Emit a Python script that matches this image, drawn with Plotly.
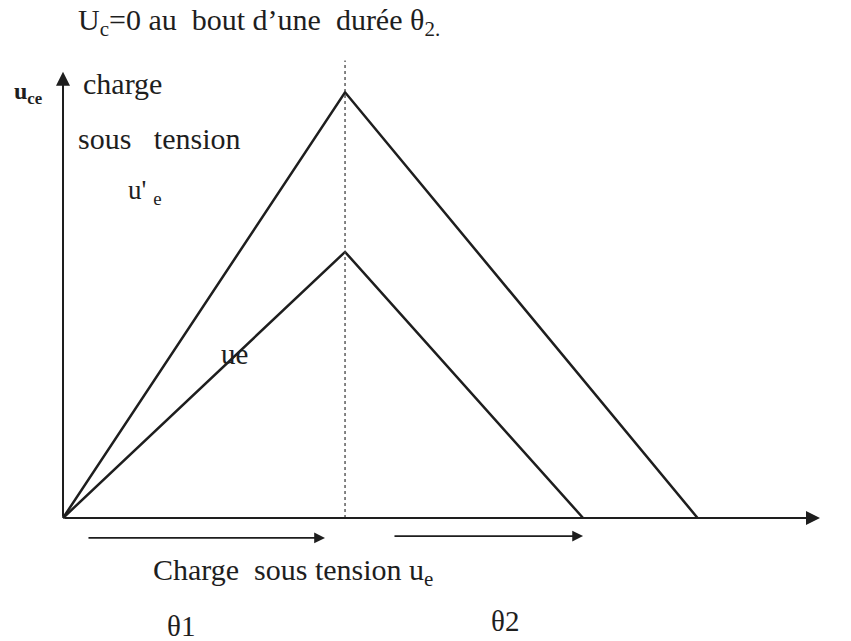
import plotly.graph_objects as go

# Time axis in units of theta1 (end of charge), voltage in units of u_e peak
t_charge = [0.0, 1.0]              # charge phase: 0 -> theta1
t_ue_discharge = [1.0, 1.844]      # u_e falls back to zero
t_uprime_discharge = [1.0, 2.25]   # u'_e falls back to zero (theta2)
ue_peak = 1.0
uprime_peak = 1.6

INK = "#1e1e1e"
FONT = "Liberation Serif"
W, H = 851, 641

# plot ranges chosen so the origin sits near the lower left
x_range = [-0.2234, 2.794]
y_range = [-0.4624, 1.947]

fig = go.Figure()

# u'_e triangle (charge under higher voltage)
fig.add_trace(go.Scatter(
    x=t_charge + t_uprime_discharge[1:],
    y=[0.0, uprime_peak, 0.0],
    mode="lines", line=dict(color=INK, width=2.5), hoverinfo="skip"))

# u_e triangle
fig.add_trace(go.Scatter(
    x=t_charge + t_ue_discharge[1:],
    y=[0.0, ue_peak, 0.0],
    mode="lines", line=dict(color=INK, width=2.5), hoverinfo="skip"))

# dotted marker at theta1
fig.add_trace(go.Scatter(
    x=[1.0, 1.0], y=[0.0, 1.72],
    mode="lines", line=dict(color="#444", width=1.3, dash="dot"), hoverinfo="skip"))

annotations = []

def arrow(x0, y0, x1, y1, width=2.0, size=1.3):
    annotations.append(dict(
        x=x1, y=y1, ax=x0, ay=y0, xref="x", yref="y", axref="x", ayref="y",
        showarrow=True, arrowhead=2, arrowsize=size, arrowwidth=width,
        arrowcolor=INK, text=""))

# axes
arrow(0.0, 0.0, 2.684, 0.0, width=2.0, size=1.4)
arrow(0.0, 0.0, 0.0, 1.677, width=2.0, size=1.4)
# duration arrows below the time axis
arrow(0.085, -0.075, 0.929, -0.075, width=1.8, size=1.2)
arrow(1.17, -0.068, 1.844, -0.068, width=1.8, size=1.2)

def label(text, px, py, size=30):
    annotations.append(dict(
        text=text, x=px / W, y=1 - py / H, xref="paper", yref="paper",
        xanchor="left", yanchor="middle", showarrow=False,
        font=dict(family=FONT, size=size, color=INK)))

label("U<sub>c</sub>=0 au  bout d\u2019une  durée θ<sub>2.</sub>", 76, 22, 30)
label("<b>u<sub>ce</sub></b>", 12, 93, 24)
label("charge", 81, 83, 30)
label("sous   tension", 76, 138, 30)
label("u' <sub>e</sub>", 126, 192, 27)
label("ue", 219, 354, 29)
label("Charge  sous tension u<sub>e</sub>", 151, 572, 30)
label("θ1", 165, 626, 29)
label("θ2", 489, 621, 29)

fig.update_layout(
    width=W, height=H,
    margin=dict(l=0, r=0, t=0, b=0),
    paper_bgcolor="white", plot_bgcolor="white",
    showlegend=False,
    xaxis=dict(range=x_range, visible=False, fixedrange=True),
    yaxis=dict(range=y_range, visible=False, fixedrange=True),
    annotations=annotations,
)

fig.write_html("out.html")
